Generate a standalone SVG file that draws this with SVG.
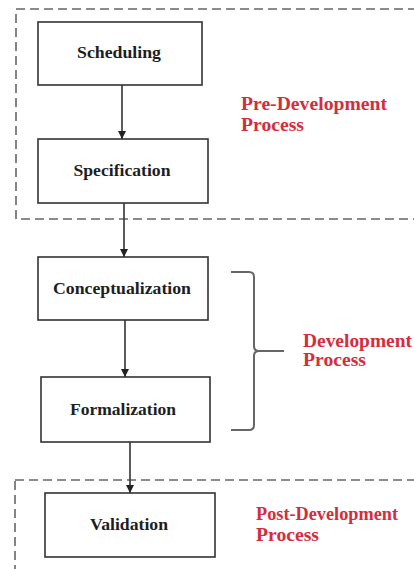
<svg xmlns="http://www.w3.org/2000/svg" width="414" height="569" viewBox="0 0 414 569">
<defs>
<style>
.box{fill:#fff;stroke:#333;stroke-width:1.6}
.grp{fill:none;stroke:#666;stroke-width:1.6;stroke-dasharray:9 5}
.lbl{font-family:"Liberation Serif","Times New Roman",serif;font-weight:bold;font-size:17.5px;fill:#1e1e1e;text-anchor:middle}
.red{font-family:"Liberation Serif","Times New Roman",serif;font-weight:bold;font-size:19px;fill:#d42d3d}
.edge{stroke:#333;stroke-width:1.6;fill:none;marker-end:url(#ah)}
.brace{fill:none;stroke:#666;stroke-width:2}
</style>
<marker id="ah" viewBox="0 0 10 10" refX="10" refY="5" markerWidth="8" markerHeight="8" markerUnits="userSpaceOnUse" orient="auto">
<path d="M0,0 L10,5 L0,10 z" fill="#222"/>
</marker>
</defs>
<rect width="414" height="569" fill="#fff"/>
<g id="pre-dev-group">
<rect class="grp" x="16" y="9" width="420" height="210"/>
<text class="red" x="241" y="110" textLength="146" lengthAdjust="spacingAndGlyphs">Pre-Development</text>
<text class="red" x="241" y="131" textLength="63" lengthAdjust="spacingAndGlyphs">Process</text>
</g>
<g id="post-dev-group">
<rect class="grp" x="15" y="480" width="420" height="110"/>
<text class="red" x="256" y="520" textLength="142" lengthAdjust="spacingAndGlyphs">Post-Development</text>
<text class="red" x="256" y="541" textLength="63" lengthAdjust="spacingAndGlyphs">Process</text>
</g>
<g id="dev-group">
<path class="brace" d="M231,272 H249 Q254,272 254,277 V346 Q254,351 259,351 H284 M259,351 Q254,351 254,356 V425 Q254,430 249,430 H231"/>
<text class="red" x="303" y="347" textLength="109" lengthAdjust="spacingAndGlyphs">Development</text>
<text class="red" x="303" y="366" textLength="63" lengthAdjust="spacingAndGlyphs">Process</text>
</g>
<g id="connectors">
<line class="edge" x1="122" y1="85" x2="122" y2="139"/>
<line class="edge" x1="124" y1="203" x2="124" y2="257"/>
<line class="edge" x1="125" y1="320" x2="125" y2="377"/>
<line class="edge" x1="130" y1="442" x2="130" y2="493"/>
</g>
<g id="scheduling">
<rect class="box" x="38" y="22" width="164" height="63"/>
<text class="lbl" x="119" y="58" textLength="84" lengthAdjust="spacingAndGlyphs">Scheduling</text>
</g>
<g id="specification">
<rect class="box" x="38" y="139" width="170" height="64"/>
<text class="lbl" x="122" y="176" textLength="97" lengthAdjust="spacingAndGlyphs">Specification</text>
</g>
<g id="conceptualization">
<rect class="box" x="38" y="257" width="170" height="63"/>
<text class="lbl" x="122" y="294" textLength="138" lengthAdjust="spacingAndGlyphs">Conceptualization</text>
</g>
<g id="formalization">
<rect class="box" x="41" y="377" width="169" height="65"/>
<text class="lbl" x="123" y="415" textLength="106" lengthAdjust="spacingAndGlyphs">Formalization</text>
</g>
<g id="validation">
<rect class="box" x="45" y="493" width="170" height="64"/>
<text class="lbl" x="129" y="530" textLength="78" lengthAdjust="spacingAndGlyphs">Validation</text>
</g>
</svg>
